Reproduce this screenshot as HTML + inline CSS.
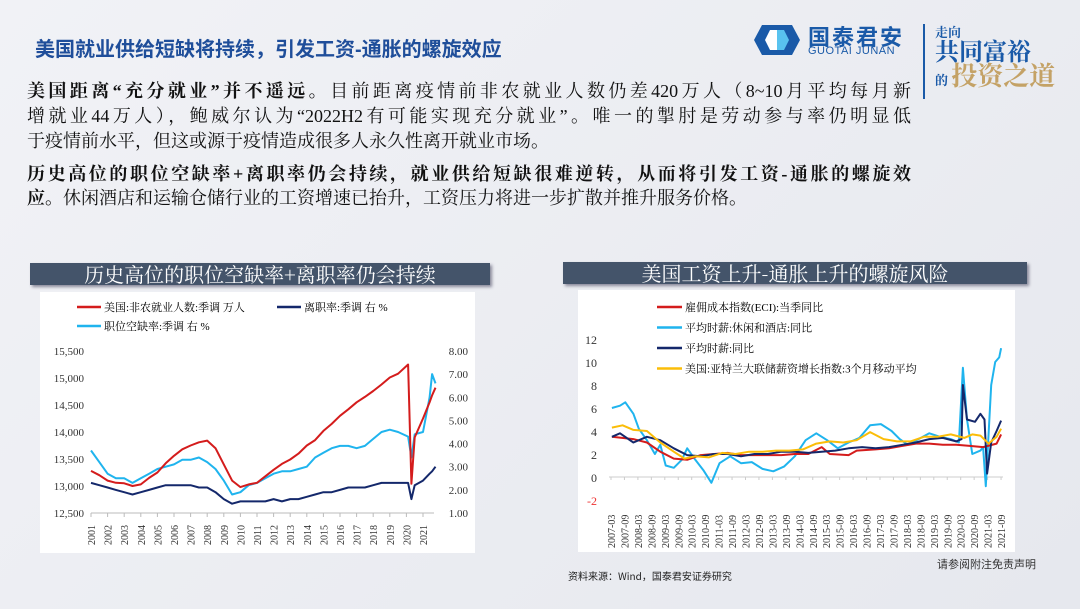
<!DOCTYPE html>
<html><head><meta charset="utf-8">
<style>
body{margin:0;width:1080px;height:609px;overflow:hidden;background:linear-gradient(135deg,#f1f2f6,#e6e8ee);font-family:"Liberation Serif","Noto Serif CJK SC",serif;position:relative}
.abs{position:absolute}
.title{left:35px;top:33px;font:bold 20px "Liberation Sans","Noto Sans CJK SC",sans-serif;color:#1f4e9a}
.ln{position:absolute;left:27px;width:884px;font-size:18px;color:#111;text-align:justify;text-align-last:justify;white-space:nowrap;line-height:24px}
.ln.l{text-align-last:left}
b{font-weight:bold}
.bar{background:#44546a;color:#fff;font:20px "Noto Serif CJK SC",serif;text-align:center;line-height:22px;box-shadow:2px 2px 3px #889}
.panel{background:#fff}
svg text{font-family:"Liberation Serif","Noto Serif CJK SC",serif}
</style></head><body>
<div class="abs title">美国就业供给短缺将持续，引发工资-通胀的螺旋效应</div>
<div class="abs" style="left:752px;top:23px;width:160px;height:34px">
 <svg width="50" height="34" class="abs" style="left:0;top:0"><path d="M10 2 H40 L48 17 L40 32 H10 L2 17Z" fill="#1a5aa8"/><path d="M18 7 H25 V27 H18 L13 17Z" fill="#fff"/><path d="M25 7 H32 L37 17 L32 27 H25Z" fill="#59c3ef"/></svg>
 <div class="abs" style="left:56px;top:-3px;font:bold 22px 'Noto Sans CJK SC',sans-serif;color:#1a5aa8;letter-spacing:2px">国泰君安</div>
 <div class="abs" style="left:56px;top:22px;font:11px 'Liberation Sans',sans-serif;color:#1a5aa8;letter-spacing:0.5px">GUOTAI JUNAN</div>
</div>
<div class="abs" style="left:923px;top:24px;width:2px;height:75px;background:#1a5aa8"></div>
<div class="abs" style="left:935px;top:25px;color:#1a5aa8;font:bold 13px 'Noto Serif CJK SC',serif;line-height:1">走向<br><span style="font-size:24px">共同富裕</span><br>的 <span style="font-size:26px;color:#c4a266">投资之道</span></div>

<div class="ln" style="top:79px"><b>美国距离“充分就业”并不遥远。</b>目前距离疫情前非农就业人数仍差420万人（8~10月平均每月新</div>
<div class="ln" style="top:104px">增就业44万人），鲍威尔认为“2022H2有可能实现充分就业”。唯一的掣肘是劳动参与率仍明显低</div>
<div class="ln l" style="top:129px">于疫情前水平，但这或源于疫情造成很多人永久性离开就业市场。</div>
<div class="ln" style="top:162px"><b>历史高位的职位空缺率+离职率仍会持续，就业供给短缺很难逆转，从而将引发工资-通胀的螺旋效</b></div>
<div class="ln l" style="top:186px"><b>应。</b>休闲酒店和运输仓储行业的工资增速已抬升，工资压力将进一步扩散并推升服务价格。</div>

<div class="abs bar" style="left:30px;top:263px;width:460px;height:22px">历史高位的职位空缺率+离职率仍会持续</div>
<div class="abs bar" style="left:563px;top:262px;width:464px;height:22px">美国工资上升-通胀上升的螺旋风险</div>
<div class="abs panel" style="left:40px;top:292px;width:435px;height:261px"></div>
<div class="abs panel" style="left:578px;top:290px;width:437px;height:262px"></div>
<svg id="c1" class="abs" style="left:0;top:0" width="1080" height="609"></svg>
<svg id="c2" class="abs" style="left:0;top:0" width="1080" height="609"></svg>
<div class="abs" style="left:568px;top:568px;font:10px 'Noto Sans CJK SC',sans-serif;color:#222">资料来源：Wind，国泰君安证券研究</div>
<div class="abs" style="left:937px;top:556px;font:11px 'Noto Sans CJK SC',sans-serif;color:#333">请参阅附注免责声明</div>
<script>
// Left chart data
const payT=[2001,2001.5,2002,2002.5,2003,2003.5,2004,2004.5,2005,2005.5,2006,2006.5,2007,2007.5,2008,2008.5,2009,2009.5,2010,2010.5,2011,2011.5,2012,2012.5,2013,2013.5,2014,2014.5,2015,2015.5,2016,2016.5,2017,2017.5,2018,2018.5,2019,2019.5,2020.1,2020.3,2020.5,2021,2021.4,2021.55,2021.75];
const payV=[13280,13200,13100,13060,13050,13000,13030,13150,13250,13420,13560,13680,13750,13810,13840,13700,13400,13100,12980,13030,13060,13180,13300,13410,13490,13600,13750,13850,14020,14150,14300,14420,14550,14650,14760,14880,15010,15080,15250,13040,13900,14250,14550,14680,14820];
const vacV=[3.7,3.2,2.7,2.5,2.5,2.3,2.5,2.7,2.9,3.0,3.1,3.3,3.3,3.4,3.2,2.9,2.4,1.8,1.9,2.2,2.3,2.5,2.7,2.8,2.8,2.9,3.0,3.4,3.6,3.8,3.9,3.9,3.8,3.9,4.2,4.5,4.6,4.5,4.3,3.4,4.4,4.5,6.0,7.0,6.6];
const quitV=[2.3,2.2,2.1,2.0,1.9,1.8,1.9,2.0,2.1,2.2,2.2,2.2,2.2,2.1,2.1,1.9,1.6,1.4,1.5,1.5,1.5,1.5,1.6,1.5,1.6,1.6,1.7,1.8,1.9,1.9,2.0,2.1,2.1,2.1,2.2,2.3,2.3,2.3,2.3,1.6,2.2,2.4,2.7,2.8,3.0];
const leftTicks=[12500,13000,13500,14000,14500,15000,15500];
const rightTicks=[1,2,3,4,5,6,7,8];
const years=[2001,2002,2003,2004,2005,2006,2007,2008,2009,2010,2011,2012,2013,2014,2015,2016,2017,2018,2019,2020,2021];
// Right chart data
const eciT=[2007.2,2008,2008.5,2009,2009.5,2010,2010.5,2011,2011.5,2012,2012.5,2013,2013.5,2014,2014.5,2015,2015.3,2016,2016.3,2017,2017.5,2018,2018.5,2019,2019.5,2020,2020.5,2021,2021.5,2021.67];
const eciV=[3.5,3.3,3.0,2.2,1.6,1.5,1.9,2.0,2.1,1.9,1.9,1.9,1.9,2.0,2.0,2.6,2.0,1.9,2.3,2.4,2.5,2.7,2.9,2.9,2.8,2.8,2.7,2.6,2.9,3.7];
const leiT=[2007.2,2007.5,2007.7,2008,2008.2,2008.5,2008.8,2009,2009.2,2009.5,2009.8,2010,2010.3,2010.6,2010.9,2011.2,2011.6,2012,2012.4,2012.8,2013.2,2013.6,2014,2014.4,2014.8,2015.2,2015.6,2016,2016.4,2016.8,2017.2,2017.6,2017.9,2018.2,2018.6,2019,2019.4,2019.8,2020.1,2020.25,2020.4,2020.6,2020.9,2021,2021.1,2021.3,2021.45,2021.6,2021.67];
const leiV=[6.0,6.2,6.5,5.5,4.2,3.2,2.0,2.8,1.0,0.8,1.5,2.5,1.5,0.6,-0.5,1.2,1.8,1.2,1.3,0.7,0.5,0.9,1.8,3.2,3.8,3.2,2.5,3.0,3.4,4.5,4.6,4.0,3.3,2.8,3.3,3.8,3.5,3.3,3.0,9.5,5.0,2.0,2.3,2.6,-0.8,8.0,10.0,10.4,11.2];
const ahT=[2007.2,2007.5,2008,2008.5,2009,2009.5,2010,2010.5,2011,2011.5,2012,2012.5,2013,2013.5,2014,2014.5,2015,2015.5,2016,2016.5,2017,2017.5,2018,2018.5,2019,2019.5,2020,2020.2,2020.25,2020.4,2020.7,2020.9,2021.05,2021.15,2021.3,2021.5,2021.67];
const ahV=[3.5,3.8,3.0,3.5,3.2,2.5,1.9,1.8,2.0,2.0,1.8,2.0,2.0,2.2,2.2,2.1,2.2,2.3,2.5,2.6,2.5,2.6,2.8,3.0,3.3,3.4,3.1,3.3,8.0,5.0,4.8,5.5,5.0,0.3,3.0,4.0,4.9];
const atlT=[2007.2,2007.6,2008,2008.5,2009,2009.5,2009.9,2010.3,2010.8,2011.3,2011.8,2012.3,2012.8,2013.3,2013.8,2014.3,2014.8,2015.3,2015.8,2016.3,2016.8,2017.3,2017.8,2018.3,2018.8,2019.3,2019.8,2020.3,2020.6,2020.9,2021.2,2021.5,2021.67];
const atlV=[4.3,4.5,4.1,4.0,3.0,2.2,1.6,1.8,1.7,2.1,2.0,2.2,2.2,2.3,2.3,2.4,2.9,3.1,3.0,3.2,3.9,3.3,3.1,3.1,3.5,3.5,3.7,3.4,3.7,3.6,2.9,3.5,4.2];
const yTicks2=[-2,0,2,4,6,8,10,12];
const halfLabels=[];for(let y=2007;y<=2021;y++){halfLabels.push(y+'-03');halfLabels.push(y+'-09');}

const NS='http://www.w3.org/2000/svg';
function mk(svg,tag,attrs){const e=document.createElementNS(NS,tag);for(const k in attrs)e.setAttribute(k,attrs[k]);svg.appendChild(e);return e;}
function line(svg,T,V,fx,fy,color,w){return mk(svg,'polyline',{points:T.map((t,i)=>fx(t).toFixed(1)+','+fy(V[i]).toFixed(1)).join(' '),fill:'none',stroke:color,'stroke-width':w,'stroke-linejoin':'round'});}
function txt(svg,x,y,s,attrs){const e=mk(svg,'text',Object.assign({x:x,y:y},attrs||{}));e.textContent=s;return e;}

// Left chart
const c1=document.getElementById('c1');
const x1=t=>91+(t-2001)*16.6;
const yl=v=>513-(v-12500)/3000*162;
const yr=v=>513-(v-1)/7*162;
mk(c1,'line',{x1:91,y1:513,x2:434,y2:513,stroke:'#bbb','stroke-width':1});
leftTicks.forEach(v=>{const e=txt(c1,84,yl(v)+4,v.toLocaleString('en-US'),{'text-anchor':'end','font-size':11,fill:'#333'});});
rightTicks.forEach(v=>{const e=txt(c1,468,yr(v)+4,v.toFixed(2),{'text-anchor':'end','font-size':11,fill:'#333'});});
years.forEach(y=>{mk(c1,'line',{x1:x1(y),y1:513,x2:x1(y),y2:517,stroke:'#bbb'});const e=txt(c1,0,0,String(y),{'font-size':10,fill:'#333',transform:`translate(${x1(y)+4},545) rotate(-90)`});});
let p=line(c1,payT,vacV,x1,yr,'#1fb4ee',2);
p=line(c1,payT,quitV,x1,yr,'#14286b',2);
p=line(c1,payT,payV,x1,yl,'#d41c1c',2);
[[77,307,'#d41c1c','美国:非农就业人数:季调 万人'],[277,307,'#14286b','离职率:季调 右 %'],[77,326,'#1fb4ee','职位空缺率:季调 右 %']].forEach(a=>{const g=mk(c1,'g',{});mk(g,'line',{x1:a[0],y1:a[1],x2:a[0]+24,y2:a[1],stroke:a[2],'stroke-width':2.5});const t=document.createElementNS(NS,'text');t.setAttribute('x',a[0]+27);t.setAttribute('y',a[1]+4);t.setAttribute('font-size',11);t.textContent=a[3];g.appendChild(t);});

// Right chart
const c2=document.getElementById('c2');
const x2=t=>611+(t-2007.167)/0.5*13.45;
const y2=v=>477-v*11.5;
mk(c2,'line',{x1:609,y1:477,x2:1003,y2:477,stroke:'#ccc','stroke-width':1});
yTicks2.forEach(v=>{const e=txt(c2,597,y2(v)+5,String(v),{'text-anchor':'end','font-size':12,fill:v<0?'#e33':'#333'});});
halfLabels.forEach((s,i)=>{const t=2007.167+i*0.5;mk(c2,'line',{x1:x2(t),y1:477,x2:x2(t),y2:480,stroke:'#ccc'});const e=txt(c2,0,0,s,{'font-size':10,fill:'#333',transform:`translate(${x2(t)+4},548) rotate(-90)`});});
p=line(c2,leiT,leiV,x2,y2,'#1fb4ee',2);
p=line(c2,eciT,eciV,x2,y2,'#d41c1c',2);
p=line(c2,ahT,ahV,x2,y2,'#14286b',2);
p=line(c2,atlT,atlV,x2,y2,'#fbbd08',2);
[['#d41c1c','雇佣成本指数(ECI):当季同比'],['#1fb4ee','平均时薪:休闲和酒店:同比'],['#14286b','平均时薪:同比'],['#fbbd08','美国:亚特兰大联储薪资增长指数:3个月移动平均']].forEach((a,i)=>{const yy=307+i*20.5;const g=mk(c2,'g',{});mk(g,'line',{x1:657,y1:yy,x2:682,y2:yy,stroke:a[0],'stroke-width':2.5});const t=document.createElementNS(NS,'text');t.setAttribute('x',685);t.setAttribute('y',yy+4);t.setAttribute('font-size',11);t.textContent=a[1];g.appendChild(t);});
</script>
</body></html>
